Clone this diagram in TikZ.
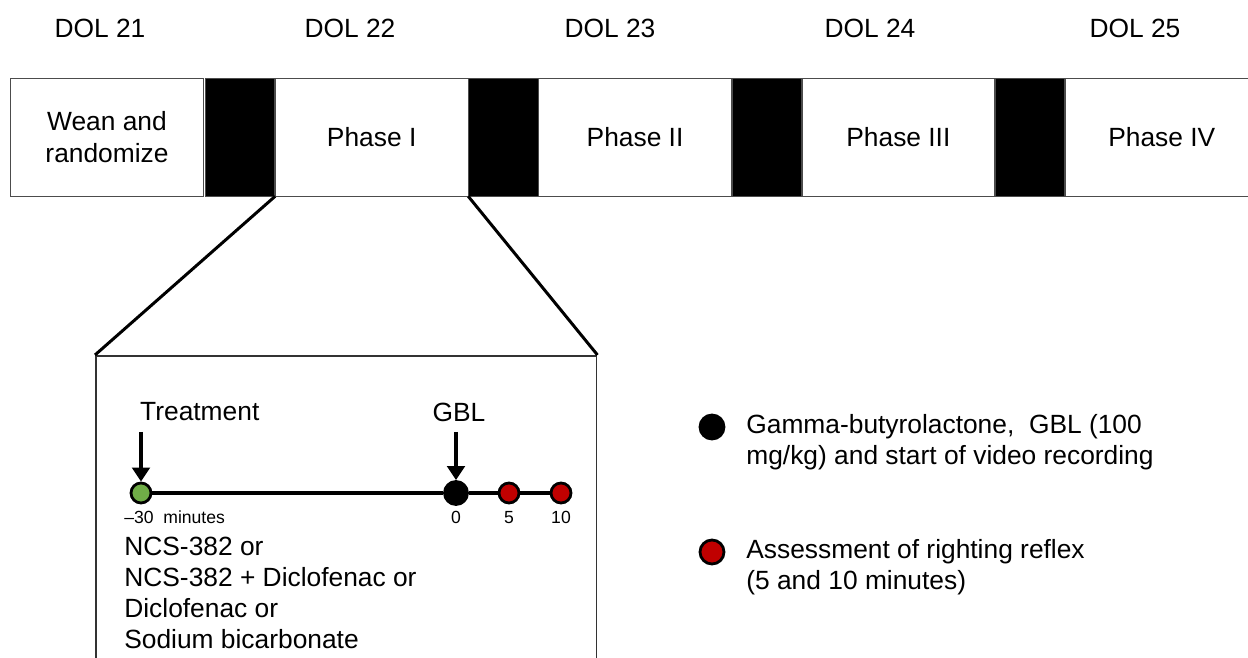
\documentclass[tikz,border=0pt]{standalone}
\usepackage{fontspec}
\setmainfont{Liberation Sans}
\usepackage{xcolor}
\usetikzlibrary{arrows.meta,positioning}
\definecolor{dotgreen}{RGB}{112,173,71}
\definecolor{dotred}{RGB}{192,0,0}
\newcommand{\labelfont}{\fontsize{15}{17.8}\selectfont}
\newcommand{\tickfont}{\fontsize{10}{12}\selectfont}
\tikzset{%
	phase/.style    = {draw=black!70, rectangle, minimum width=3.85cm, minimum height=2.36cm, inner sep=0pt, align=center, font=\labelfont},
	dark/.style     = {draw=black!70, fill=black, rectangle, minimum width=1.39cm, minimum height=2.36cm, inner sep=0pt},
	dol/.style      = {font=\labelfont},
	dot/.style      = {circle, draw=black, line width=1.6pt, minimum size=0.4cm, inner sep=0pt},
	tick/.style     = {font=\tickfont, inner sep=0pt, anchor=base},
	arrow/.style    = {line width=1.9pt, -{Triangle[length=8pt,width=10pt]}},
	zoomline/.style = {line width=1.7pt},
}

\begin{document}
\begin{tikzpicture}[x=0.02cm, y=-0.02cm]
	\useasboundingbox (0,0) rectangle (1248,658);
	\fill[white] (0,0) rectangle (1248,658);
	\clip (0,0) rectangle (1248,658);
	
	% days
	\foreach \d/\x in {21/100,22/350,23/610,24/870,25/1135}
		\node[dol] (dol\d) at (\x,28) {DOL \d};
	
	% time bar
	\node[phase, minimum width=3.86cm] (wean) at (107,137) {Wean and\\randomize};
	\node[dark] (gap1) at (240,137) {};
	\node[phase, right=0pt of gap1] (ph1) {Phase I};
	\node[dark, right=0pt of ph1] (gap2) {};
	\node[phase, right=0pt of gap2] (ph2) {Phase II};
	\node[dark, right=0pt of ph2] (gap3) {};
	\node[phase, right=0pt of gap3] (ph3) {Phase III};
	\node[dark, right=0pt of ph3] (gap4) {};
	\node[phase, right=0pt of gap4] (ph4) {Phase IV};
	
	% zoom on phase I
	\node[draw=black!80, line width=0.9pt, minimum width=10.02cm, minimum height=6.4cm, anchor=north west] (zoom) at (95,355) {};
	\draw[zoomline] (ph1.south west) -- (zoom.north west);
	\draw[zoomline] (ph1.south east) -- (zoom.north east);
	
	% timeline
	\node[dot, fill=dotgreen] (m30) at (141,493) {};
	\node[dot, fill=black, minimum size=0.46cm] (m0) at (456,493) {};
	\node[dot, fill=dotred] (m5) at (509,493) {};
	\node[dot, fill=dotred] (m10) at (561,493) {};
	\draw[line width=2.2pt] (m30) -- (m0) -- (m5) -- (m10);
	\node[tick, anchor=base west] (t30) at (124,523) {–30\ \ minutes};
	\node[tick] (t0) at (456,523) {0};
	\node[tick] (t5) at (509,523) {5};
	\node[tick] (t10) at (561,523) {10};
	
	\node[dol, anchor=west] (treat) at (134,412) {Treatment};
	\node[dol] (gbl) at (459,412) {GBL};
	\coordinate (treattop) at (141,432);
	\coordinate (gbltop) at (456,432);
	\draw[arrow] (treattop) -- (m30.north);
	\draw[arrow] (gbltop) -- (m0.north);
	
	\node[dol, anchor=west, align=left, inner sep=0pt] (drugs) at (124,593) {NCS-382 or\\NCS-382 + Diclofenac or\\Diclofenac or\\Sodium bicarbonate};
	
	% legend
	\node[dot, fill=black, minimum size=0.48cm] (keyblack) at (712,427) {};
	\node[dot, fill=dotred, minimum size=0.48cm] (keyred) at (712,552) {};
	\node[dol, anchor=west, align=left, inner sep=0pt] (keygbl) at (746,442) {Gamma-butyrolactone,\ \ GBL (100\\mg/kg) and start of video recording};
	\node[dol, anchor=west, align=left, inner sep=0pt] (keyreflex) at (746,567) {Assessment of righting reflex\\(5 and 10 minutes)};
\end{tikzpicture}
\end{document}
